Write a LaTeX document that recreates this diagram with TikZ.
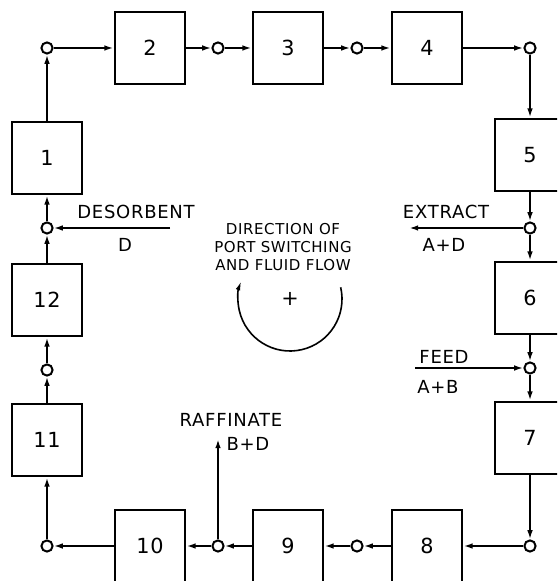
\documentclass[tikz,border=0pt]{standalone}
\usepackage{fontspec}
\setmainfont[LetterSpace=4]{DejaVu Sans}
\usetikzlibrary{arrows.meta}

\begin{document}
\begin{tikzpicture}[x=0.5pt,y=-0.5pt,
    column/.style={draw,line width=1.4pt,minimum width=35pt,minimum height=36pt,
      inner sep=0pt,font=\fontsize{10.4}{12}\selectfont},
    port/.style={circle,draw,line width=1pt,minimum size=5.6pt,inner sep=0pt,fill=white},
    flow/.style={line width=1pt,-{Latex[length=4.6pt,width=2.8pt]}},
    stream/.style={inner sep=0pt,font=\fontsize{9}{10}\selectfont},
    note/.style={inner sep=0pt,align=center,font=\fontsize{7.5}{9}\selectfont}]
  \clip (0,0) rectangle (557,581);

  % the twelve columns of the loop
  \node[column] (c1) at (47,158) {1};
  \node[column] (c2) at (150,48) {2};
  \node[column] (c3) at (288,48) {3};
  \node[column] (c4) at (427,48) {4};
  \node[column] (c5) at (530,155) {5};
  \node[column] (c6) at (530,298) {6};
  \node[column] (c7) at (530,438) {7};
  \node[column] (c8) at (427,546) {8};
  \node[column] (c9) at (288,546) {9};
  \node[column] (c10) at (150,546) {10};
  \node[column] (c11) at (47,440) {11};
  \node[column] (c12) at (47,300) {12};

  % ports after each column
  \node[port] (o1) at (47,48) {};
  \node[port] (o2) at (218,48) {};
  \node[port] (o3) at (357,48) {};
  \node[port] (o4) at (530,48) {};
  \node[port] (o5) at (530,228) {};
  \node[port] (o6) at (530,368) {};
  \node[port] (o7) at (530,546) {};
  \node[port] (o8) at (357,546) {};
  \node[port] (o9) at (218,546) {};
  \node[port] (o10) at (47,546) {};
  \node[port] (o11) at (47,370) {};
  \node[port] (o12) at (47,228) {};

  \foreach \i [evaluate=\i as \j using {int(mod(\i,12)+1)}] in {1,...,12} {
    \draw[flow] (c\i) -- (o\i);
    \draw[flow] (o\i) -- (c\j);
  }

  % streams in and out
  \coordinate (dIn) at (170,228);
  \coordinate (eOut) at (409,228);
  \coordinate (fIn) at (415,368);
  \coordinate (rOut) at (218,439);
  \draw[flow] (dIn) -- (o12);
  \draw[flow] (o5) -- (eOut);
  \draw[flow] (fIn) -- (o6);
  \draw[flow] (o9) -- (rOut);

  \node[stream] (desorbent) at (136,212) {DESORBENT};
  \node[stream] (d) at (125,245) {D};
  \node[stream] (extract) at (446,212) {EXTRACT};
  \node[stream] (ad) at (444,245) {A+D};
  \node[stream] (feed) at (444,357) {FEED};
  \node[stream] (ab) at (438,387) {A+B};
  \node[stream] (raffinate) at (231,420) {RAFFINATE};
  \node[stream] (bd) at (248,444) {B+D};

  % direction of switching
  \node[note] (dir) at (283,247) {DIRECTION OF\\PORT SWITCHING\\AND FLUID FLOW};
  \node[inner sep=0pt,font=\fontsize{10.4}{12}\selectfont] (plus) at (290,299) {+};
  \draw[line width=0.8pt,-{Latex[length=4.6pt,width=2.4pt]}]
    (plus) ++(-13:52) arc[start angle=-13,end angle=200,radius=52];
\end{tikzpicture}
\end{document}
